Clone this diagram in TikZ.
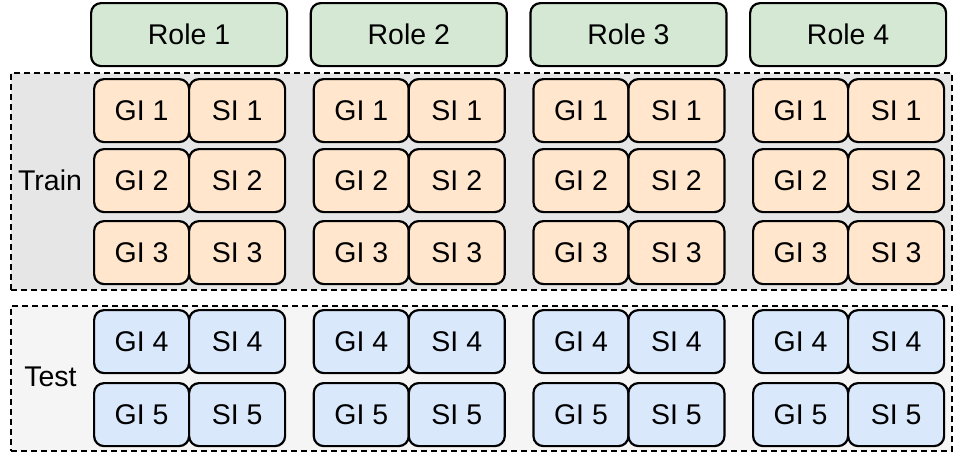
\documentclass[tikz,border=0pt]{standalone}
\usepackage{fontspec}
\setmainfont{Liberation Sans}
\definecolor{rolefill}{HTML}{D5E8D4}
\definecolor{trainfill}{HTML}{FFE6CC}
\definecolor{testfill}{HTML}{DAE8FC}
\definecolor{trainbg}{HTML}{E6E6E6}
\definecolor{testbg}{HTML}{F5F5F5}
\begin{document}
\begin{tikzpicture}[x=1pt,y=-1pt,
  box/.style={draw=black,line width=2.2pt,rounded corners=10pt,inner sep=0pt,anchor=north west,
    font=\fontsize{28.5}{33}\selectfont},
  rolebox/.style={box,fill=rolefill,minimum width=196pt,minimum height=63pt},
  gibox/.style={box,minimum width=95pt,minimum height=63pt},
  sibox/.style={box,minimum width=96pt,minimum height=63pt},
  region/.style={draw=black,line width=2.2pt,dash pattern=on 6pt off 4pt,inner sep=0pt,anchor=north west},
  lbl/.style={font=\fontsize{28.5}{33}\selectfont,inner sep=0pt}]
\useasboundingbox (0,0) rectangle (953,453);
\node[region,fill=trainbg,minimum width=941pt,minimum height=217pt] (train) at (10,72) {};
\node[region,fill=testbg,minimum width=941pt,minimum height=145pt] (test) at (10,305) {};
\node[lbl] (trainlbl) at (50,180) {Train};
\node[lbl] (testlbl) at (50.5,377) {Test};
\foreach \c in {1,2,3,4}{
  \pgfmathsetmacro{\L}{90+219.67*(\c-1)}
  \node[rolebox] (role\c) at (\L,2) {Role \c};
  \foreach \r/\y in {1/78,2/148,3/220}{
    \node[gibox,fill=trainfill] (gi\c\r) at (\L+3,\y) {GI \r};
    \node[sibox,fill=trainfill] (si\c\r) at (\L+98,\y) {SI \r};
  }
  \foreach \r/\y in {4/309,5/382}{
    \node[gibox,fill=testfill] (gi\c\r) at (\L+3,\y) {GI \r};
    \node[sibox,fill=testfill] (si\c\r) at (\L+98,\y) {SI \r};
  }
}
\end{tikzpicture}
\end{document}
